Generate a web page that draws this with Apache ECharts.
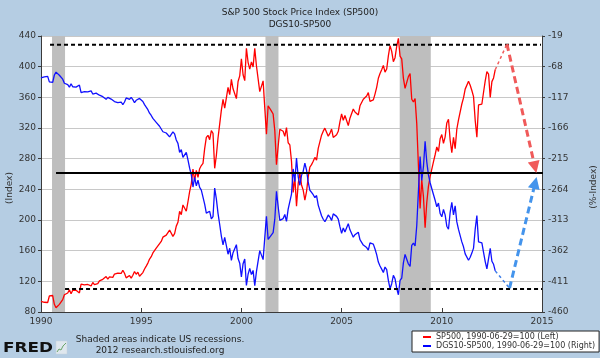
<!DOCTYPE html>
<html><head><meta charset="utf-8">
<script src="https://cdn.jsdelivr.net/npm/echarts@6/dist/echarts.min.js"></script>
<style>html,body{margin:0;padding:0;background:#b5cde3}#c{width:600px;height:358px}</style>
</head><body><div id="c"></div><script>
// ---- data (monthly, index 0 = start of 1990, index i = end of month i) ----
const titleLines = ['S&P 500 Stock Price Index (SP500)', 'DGS10-SP500'];
const seriesNames = ['SP500, 1990-06-29=100 (Left)', 'DGS10-SP500, 1990-06-29=100 (Right)'];
const xTicks = [1990, 1995, 2000, 2005, 2010, 2015];
const leftTicks = [80, 440, 40];          // min, max, step
const rightTicks = [-460, -19, 49];       // min, max, step

const sp500Index = [94,
 91.9, 92.7, 94.9, 92.4, 100.9, 100.0, 101.5, 90.1, 85.5, 83.5, 90.0, 92.2,
 96.1, 102.5, 104.8, 104.8, 108.9, 103.7, 108.3, 110.4, 108.3, 109.6, 104.8, 116.5,
 114.2, 115.3, 112.8, 115.9, 116.0, 114.0, 118.5, 115.6, 116.7, 116.9, 120.5, 121.7,
 122.6, 123.8, 126.2, 123.0, 125.7, 125.8, 125.2, 129.5, 128.2, 130.7, 129.0, 130.3,
 134.5, 130.5, 124.5, 125.9, 127.5, 124.1, 128.0, 132.8, 129.2, 131.9, 126.7, 128.3,
 131.4, 136.1, 139.9, 143.8, 149.0, 152.2, 157.0, 156.9, 163.2, 162.4, 169.1, 172.0,
 177.6, 178.9, 180.3, 182.7, 186.9, 187.3, 178.7, 182.1, 192.0, 197.0, 211.4, 206.9,
 219.6, 220.9, 211.5, 223.8, 236.9, 247.2, 266.5, 251.2, 264.6, 255.5, 266.9, 271.0,
 273.8, 293.1, 307.7, 310.5, 304.7, 316.7, 313.0, 267.4, 284.1, 306.9, 325.0, 343.3,
 357.4, 345.9, 359.3, 372.9, 363.6, 383.4, 371.1, 368.8, 358.3, 380.7, 388.0, 410.4,
 389.5, 381.7, 424.0, 405.7, 396.8, 406.3, 399.6, 423.9, 401.2, 399.2, 367.4, 368.8,
 381.5, 346.3, 312.0, 349.0, 350.8, 342.0, 338.3, 316.6, 272.0, 296.0, 318.3, 320.7,
 315.7, 309.1, 320.5, 300.8, 298.1, 276.5, 236.0, 255.9, 218.0, 247.4, 261.5, 245.7,
 239.0, 226.0, 236.9, 256.1, 269.1, 272.2, 276.6, 281.6, 278.2, 293.5, 295.6, 310.6,
 315.9, 319.8, 314.6, 309.3, 313.0, 318.6, 307.7, 308.4, 311.3, 315.7, 327.9, 338.5,
 330.0, 336.2, 329.8, 323.1, 332.8, 332.7, 344.7, 340.8, 343.2, 337.1, 349.0, 348.7,
 357.5, 357.7, 361.7, 366.1, 354.8, 354.8, 356.6, 364.2, 373.1, 384.9, 391.2, 396.1,
 401.7, 392.9, 396.9, 414.1, 427.5, 419.9, 406.5, 411.7, 426.5, 437.0, 413.7, 410.1,
 385.1, 371.7, 369.4, 387.0, 391.1, 357.5, 354.0, 358.3, 325.8, 270.6, 215.0, 252.3,
 230.7, 190.0, 222.9, 243.8, 256.7, 256.8, 275.8, 285.1, 295.3, 289.4, 306.0, 311.5,
 299.9, 308.5, 326.6, 331.5, 304.3, 287.9, 307.7, 293.1, 318.7, 330.5, 329.8, 351.3,
 359.2, 370.7, 370.3, 380.9, 375.7, 368.9, 360.9, 330.0, 308.0, 350.1, 348.3, 351.3,
 366.6, 381.5, 393.4, 390.4, 360.0, 380.5, 385.3, 396.0];

const dgs10MinusSp500 = [-86.0,
 -83.5, -84.2, -86.3, -83.6, -92.3, -91.6, -93.1, -81.3, -76.7, -74.9, -81.7, -84.1,
 -88.0, -94.5, -96.7, -96.8, -100.8, -95.4, -100.1, -102.5, -100.7, -102.1, -97.4, -109.4,
 -107.2, -108.0, -105.3, -108.4, -108.6, -106.7, -111.7, -109.0, -110.3, -110.3, -113.6, -114.9,
 -116.0, -117.5, -120.2, -117.0, -119.7, -119.8, -119.4, -123.8, -122.8, -125.4, -123.3, -124.5,
 -128.8, -124.5, -118.0, -118.9, -120.3, -117.0, -120.7, -125.6, -121.7, -124.2, -118.7, -120.5,
 -123.6, -128.6, -132.7, -136.7, -142.3, -146.0, -150.7, -150.4, -156.9, -156.4, -163.2, -166.3,
 -172.0, -173.1, -174.0, -176.2, -180.2, -180.4, -172.1, -175.5, -185.2, -190.5, -205.1, -200.6,
 -213.0, -214.5, -204.8, -216.9, -230.2, -240.7, -260.3, -244.9, -258.4, -249.5, -261.0, -265.2,
 -268.2, -287.5, -302.1, -304.9, -299.1, -311.2, -307.5, -262.1, -279.3, -302.4, -320.2, -338.7,
 -352.7, -340.9, -354.1, -367.7, -358.1, -377.5, -365.3, -362.9, -352.4, -374.6, -382.0, -404.1,
 -382.8, -375.2, -417.7, -399.7, -390.4, -400.2, -393.6, -418.1, -395.4, -393.5, -361.9, -363.6,
 -376.3, -341.2, -307.1, -343.9, -345.4, -336.7, -333.1, -311.7, -267.3, -291.5, -313.7, -315.6,
 -310.7, -304.2, -315.2, -295.6, -293.0, -271.6, -231.4, -251.6, -214.1, -243.5, -257.5, -241.7,
 -235.0, -222.1, -233.1, -252.1, -265.5, -268.9, -272.6, -277.2, -273.9, -289.2, -291.3, -306.3,
 -311.8, -315.7, -310.8, -305.0, -308.3, -313.9, -303.2, -304.1, -307.2, -311.6, -323.7, -334.3,
 -325.8, -332.0, -325.3, -318.8, -328.7, -328.7, -340.5, -336.5, -339.0, -332.6, -344.5, -344.2,
 -353.1, -353.1, -357.0, -361.1, -349.7, -349.7, -351.5, -359.3, -368.4, -380.2, -386.6, -391.5,
 -396.9, -388.2, -392.3, -409.4, -422.8, -414.8, -401.5, -407.0, -422.0, -432.5, -409.6, -406.0,
 -381.4, -368.0, -365.9, -383.3, -387.2, -353.4, -350.0, -354.4, -322.1, -266.8, -211.5, -249.9,
 -228.2, -187.1, -220.1, -240.9, -253.4, -253.1, -272.2, -281.5, -291.9, -286.0, -302.6, -307.9,
 -296.2, -304.8, -322.9, -327.7, -300.9, -284.7, -304.7, -290.4, -316.1, -328.0, -327.0, -348.0,
 -355.8, -367.1, -366.9, -377.4, -372.5, -365.9, -357.9, -327.7, -306.0, -348.0, -346.3, -349.4,
 -364.7, -379.5, -391.2, -388.4, -358.2, -378.9, -383.8, -394.3];

const recessions = [[1990.55, 1991.2], [2001.2, 2001.85], [2007.9, 2009.45]];

// hand-drawn annotations (data units)
const levelTop = [[1990.45, 428.5], [2014.95, 428.5]];
const levelMid = [[1990.75, 261.3], [2015.15, 261.3]];
const levelBottom = [[1991.2, 110], [2015.0, 110]];
const redGuideThin = [[2012.667, 396.0], [2013.25, 429.5]];
const redGuideArrow = [[2013.25, 429.5], [2014.65, 269]];
const blueGuideThin = [[2012.667, -394.3], [2013.38, -422]];     // right-axis units
const blueGuideArrow = [[2013.38, -422], [2014.66, -253.6]];      // right-axis units

// ---- chart ----
const OFF = -rightTicks[0];   // right axis is drawn as 0..441 and labelled -460..-19
const monthly = (arr, off) => arr.map((v, i) => [1990 + i / 12, v + off]);
const shift = (pts, off) => pts.map(p => [p[0], p[1] + off]);
const FONT = 'DejaVu Sans';
const axisCol = '#3a3a3a';

const chart = echarts.init(document.getElementById('c'), null, {renderer: 'canvas'});
chart.setOption({
  backgroundColor: '#b5cde3',
  animation: false,
  textStyle: {fontFamily: FONT},
  title: {
    text: titleLines.join('\n'), left: 'center', top: 2,
    textStyle: {fontSize: 9, fontWeight: 'normal', color: '#222', lineHeight: 12, fontFamily: FONT}
  },
  grid: {left: 41, right: 58, top: 36, bottom: 46, show: true, backgroundColor: '#ffffff', borderWidth: 0},
  legend: {
    data: seriesNames, orient: 'vertical', left: 412, top: 331,
    backgroundColor: '#ffffff', borderColor: '#222', borderWidth: 1, borderRadius: 0,
    padding: [2, 4, 2, 11], itemGap: 1, itemWidth: 8, itemHeight: 2, icon: 'rect',
    textStyle: {fontSize: 8, color: '#333', fontFamily: FONT}
  },
  xAxis: {
    type: 'value', min: xTicks[0], max: xTicks[xTicks.length - 1], interval: 5,
    axisLine: {lineStyle: {color: axisCol}},
    axisTick: {inside: true, length: 4, lineStyle: {color: axisCol}},
    axisLabel: {fontSize: 9, color: '#333', margin: 5, formatter: v => String(v)},
    splitLine: {show: false}
  },
  yAxis: [{
    type: 'value', min: leftTicks[0], max: leftTicks[1], interval: leftTicks[2], position: 'left',
    axisLine: {show: true, lineStyle: {color: axisCol}},
    axisTick: {show: true, length: 3, lineStyle: {color: axisCol}},
    axisLabel: {fontSize: 9, color: '#333', margin: 5},
    splitLine: {show: true, lineStyle: {color: '#c8c8c8', width: 1}}
  }, {
    type: 'value', min: 0, max: rightTicks[1] + OFF, interval: rightTicks[2], position: 'right',
    axisLine: {show: true, lineStyle: {color: axisCol}},
    axisTick: {show: true, length: 3, lineStyle: {color: axisCol}},
    axisLabel: {fontSize: 9, color: '#333', margin: 6, formatter: v => String(Math.round(v - OFF))},
    splitLine: {show: false}
  }],
  series: [
    {type: 'line', name: 'recessions', data: [], z: 1, silent: true,
     markArea: {silent: true, itemStyle: {color: '#bebebe', opacity: 1},
       data: recessions.map(r => [{xAxis: r[0]}, {xAxis: r[1]}])}},
    {type: 'line', name: seriesNames[0], yAxisIndex: 0, data: monthly(sp500Index, 0), z: 3,
     symbol: 'none', showSymbol: false, color: '#ff0000', lineStyle: {color: '#ff0000', width: 1.3}},
    {type: 'line', name: seriesNames[1], yAxisIndex: 1, data: monthly(dgs10MinusSp500, OFF), z: 3,
     symbol: 'none', showSymbol: false, color: '#0000ff', lineStyle: {color: '#1010ff', width: 1.3}},
    {type: 'line', name: 'top', yAxisIndex: 0, data: levelTop, z: 4, symbol: 'none', silent: true,
     lineStyle: {color: '#000', width: 2, type: [4, 3]}},
    {type: 'line', name: 'bottom', yAxisIndex: 0, data: levelBottom, z: 4, symbol: 'none', silent: true,
     lineStyle: {color: '#000', width: 2, type: [4, 3]}},
    {type: 'line', name: 'mid', yAxisIndex: 0, data: levelMid, z: 4, symbol: 'none', silent: true, clip: false,
     lineStyle: {color: '#000', width: 2}},
    {type: 'line', name: 'redThin', yAxisIndex: 0, data: redGuideThin, z: 4, symbol: 'none', silent: true,
     lineStyle: {color: '#f05a5a', width: 1.5, type: [3, 3]}},
    {type: 'line', name: 'blueThin', yAxisIndex: 1, data: shift(blueGuideThin, OFF), z: 4, symbol: 'none', silent: true,
     lineStyle: {color: '#3f7fe8', width: 1.5, type: [3, 3]}},
    {type: 'lines', name: 'redArrow', coordinateSystem: 'cartesian2d', yAxisIndex: 0, z: 5, silent: true,
     symbol: ['none', 'triangle'], symbolSize: 12, effect: {show: false},
     lineStyle: {color: '#f05a5a', width: 3, type: [7, 4], opacity: 1},
     data: [{coords: redGuideArrow}]},
    {type: 'lines', name: 'blueArrow', coordinateSystem: 'cartesian2d', yAxisIndex: 1, z: 5, silent: true,
     symbol: ['none', 'triangle'], symbolSize: 12, effect: {show: false},
     lineStyle: {color: '#4494ec', width: 3, type: [7, 4], opacity: 1},
     data: [{coords: shift(blueGuideArrow, OFF)}]}
  ],
  graphic: [
    {type: 'text', x: 10, y: 188, rotation: Math.PI / 2,
     style: {text: '(Index)', font: '9px "DejaVu Sans"', fill: '#333', align: 'center', verticalAlign: 'middle'}},
    {type: 'text', x: 594, y: 187, rotation: Math.PI / 2,
     style: {text: '(%-Index)', font: '9px "DejaVu Sans"', fill: '#333', align: 'center', verticalAlign: 'middle'}},
    {type: 'text', x: 160, y: 340,
     style: {text: 'Shaded areas indicate US recessions.', font: '9px "DejaVu Sans"', fill: '#222', align: 'center', verticalAlign: 'middle'}},
    {type: 'text', x: 160, y: 351,
     style: {text: '2012 research.stlouisfed.org', font: '9px "DejaVu Sans"', fill: '#222', align: 'center', verticalAlign: 'middle'}},
    {type: 'text', x: 3, y: 348, scaleX: 1.23,
     style: {text: 'FRED', font: 'bold 13.7px "DejaVu Sans"', fill: '#111', align: 'left', verticalAlign: 'middle'}},
    {type: 'rect', shape: {x: 56, y: 341, width: 11, height: 13}, style: {fill: '#dfe7ee', stroke: '#c5d0da', lineWidth: 0.5}},
    {type: 'polyline', shape: {points: [[57, 352], [59, 349], [61, 350], [63, 346], [66, 343]]},
     style: {stroke: '#6aa56a', lineWidth: 1, fill: null}}
  ]
});
</script></body></html>
